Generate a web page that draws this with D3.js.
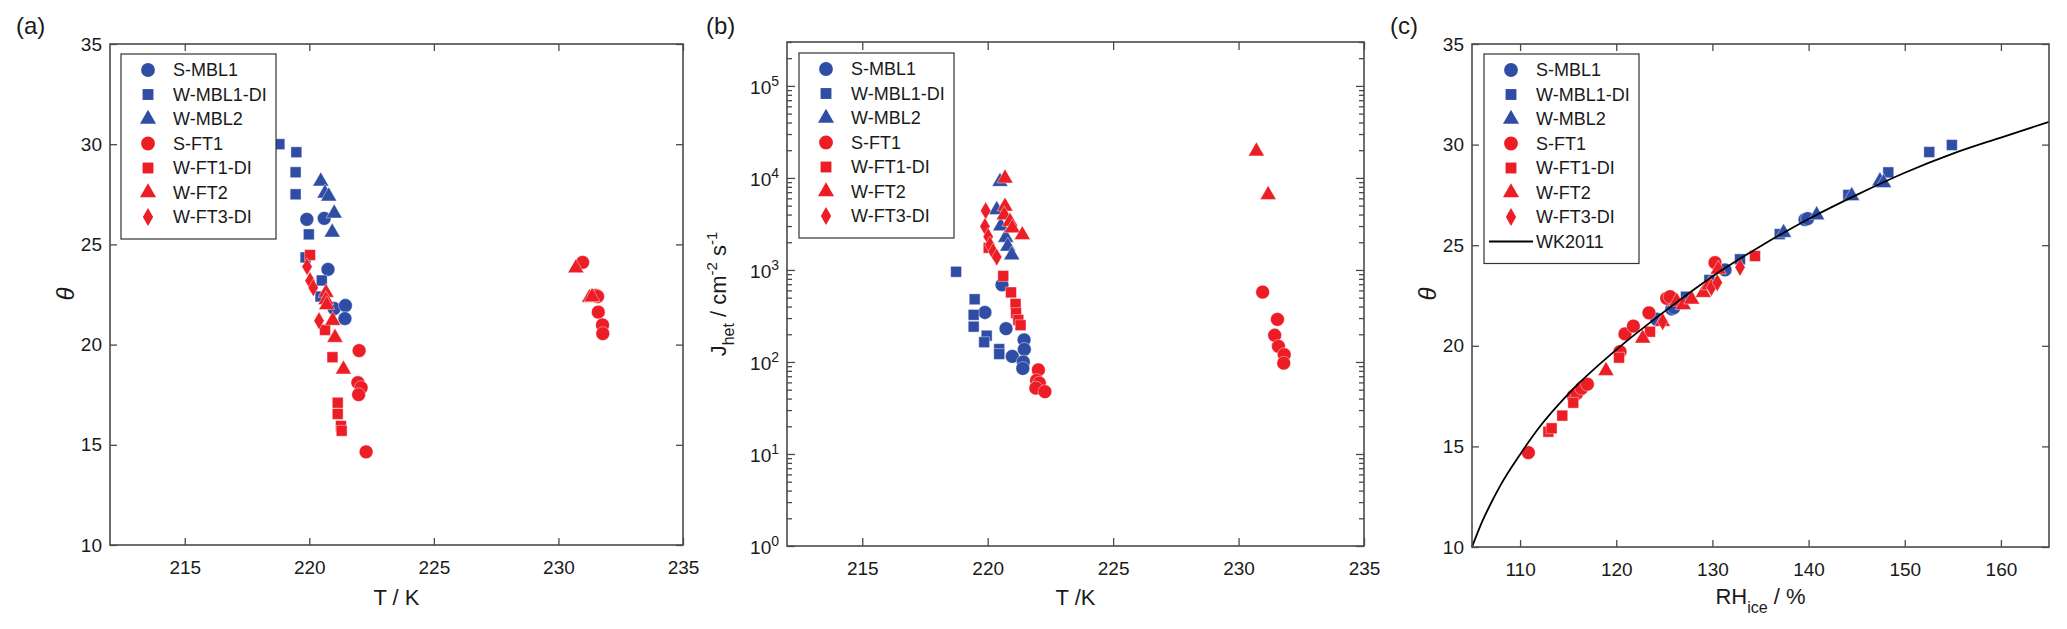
<!DOCTYPE html>
<html>
<head>
<meta charset="utf-8">
<script src="https://cdn.jsdelivr.net/npm/d3@7"></script>
<style>
    body { margin: 0; background: #fff; }
    text { font-family: "Liberation Sans", Arial, sans-serif; fill: #1a1a1a; }
</style>
</head>
<body>
<div id="chart"></div>
<script>

// ---- series ----
const seriesNames  = ["S-MBL1", "W-MBL1-DI", "W-MBL2", "S-FT1", "W-FT1-DI", "W-FT2", "W-FT3-DI"]
const seriesGroups = ["MBL", "MBL", "MBL", "FT", "FT", "FT", "FT"]
const seriesShapes = ["circle", "square", "triangle", "circle", "square", "triangle", "diamond"]

// ---- panel (a): [T (K), theta] ----
const sMBL1_a   = [[219.9, 26.25], [220.6, 26.3], [220.75, 23.75], [221.0, 21.8], [221.45, 21.95], [221.43, 21.3]]
const wMBL1DI_a = [[218.8, 30.0], [219.48, 29.6], [219.45, 28.6], [219.45, 27.5], [219.98, 25.5], [219.85, 24.35], [220.5, 23.2], [220.45, 22.4]]
const wMBL2_a   = [[220.46, 28.15], [220.63, 27.55], [220.78, 27.4], [221.0, 26.55], [220.92, 25.6]]
const sFT1_a    = [[222.0, 19.7], [221.95, 18.1], [222.08, 17.85], [221.98, 17.5], [222.28, 14.65],
                   [230.97, 24.1], [231.5, 22.45], [231.57, 22.4], [231.6, 21.62], [231.77, 20.98], [231.78, 20.55]]
const wFT1DI_a  = [[220.03, 24.47], [220.63, 20.73], [220.93, 19.37], [221.14, 17.1], [221.14, 16.54], [221.27, 15.94], [221.3, 15.7]]
const wFT2_a    = [[220.67, 22.59], [220.67, 22.23], [220.7, 21.98], [220.94, 21.2], [221.03, 20.35], [221.37, 18.77],
                   [230.7, 23.82], [231.25, 22.34], [231.35, 22.38]]
const wFT3DI_a  = [[219.91, 23.89], [220.03, 23.19], [220.16, 22.84], [220.39, 21.19]]

// ---- panel (b): [T (K), J_het (cm-2 s-1)] ----
const sMBL1_b   = [[220.57, 690], [219.89, 345], [220.73, 230], [220.98, 115], [221.45, 174], [221.46, 137], [221.42, 100], [221.4, 85]]
const wMBL1DI_b = [[218.74, 955], [219.48, 480], [219.44, 325], [219.44, 242], [219.96, 193], [219.86, 164], [220.46, 138], [220.46, 122]]
const wMBL2_b   = [[220.49, 9100], [220.36, 4500], [220.52, 3000], [220.72, 2250], [220.8, 1800], [220.96, 1450]]
const sFT1_b    = [[222.02, 82], [221.95, 63], [222.06, 59], [221.92, 52], [222.28, 47.5],
                   [230.96, 575], [231.55, 290], [231.44, 195], [231.59, 148], [231.82, 120], [231.8, 97]]
const wFT1DI_b  = [[220.04, 1740], [220.62, 860], [220.93, 570], [221.11, 427], [221.13, 340], [221.22, 286], [221.31, 251]]
const wFT2_b    = [[220.69, 9900], [220.69, 4900], [220.66, 3950], [220.89, 3350], [220.98, 2850], [221.38, 2400],
                   [230.71, 19500], [231.18, 6550]]
const wFT3DI_b  = [[219.92, 4400], [219.89, 2970], [220.02, 2300], [220.09, 1870], [220.22, 1580], [220.36, 1380]]

// ---- panel (c): [RH_ice (%), theta] ----
const sMBL1_c   = [[124.2, 21.32], [125.77, 21.83], [126.0, 21.9], [131.31, 23.77], [139.63, 26.27], [139.9, 26.32]]
const wMBL1DI_c = [[127.25, 22.44], [129.68, 23.27], [132.87, 24.3], [137.0, 25.55], [144.13, 27.5], [148.29, 28.62], [152.55, 29.63], [154.9, 29.98]]
const wMBL2_c   = [[137.4, 25.62], [140.84, 26.5], [144.48, 27.45], [147.42, 28.19], [147.8, 28.1]]
const sFT1_c    = [[110.86, 14.69], [115.53, 17.5], [115.9, 17.64], [116.4, 17.89], [117.0, 18.09], [120.39, 19.71],
                   [120.91, 20.59], [121.78, 20.98], [123.4, 21.64], [125.25, 22.36], [125.6, 22.44], [130.27, 24.13]]
const wFT1DI_c  = [[112.94, 15.73], [113.28, 15.9], [114.39, 16.53], [115.53, 17.17], [120.29, 19.41], [123.51, 20.7], [134.43, 24.46]]
const wFT2_c    = [[118.93, 18.76], [122.75, 20.37], [124.8, 21.2], [126.3, 22.2], [126.97, 22.03], [127.84, 22.31],
                   [129.05, 22.64], [129.64, 23.02], [130.61, 23.8]]
const wFT3DI_c  = [[124.83, 21.2], [129.9, 22.9], [130.51, 23.14], [132.87, 23.9]]

// WK2011 curve
const wkRH    = [105, 106, 107, 108, 110, 112, 115, 120, 125, 130, 135, 140, 145, 150, 155, 160, 165]
const wkTheta = [10, 11.2, 12.2, 13.1, 14.6, 15.95, 17.6, 19.8, 21.7, 23.45, 24.95, 26.3, 27.5, 28.6, 29.55, 30.35, 31.13]

// ---- ticks ----
const tTicks     = [215, 220, 225, 230, 235]
const thetaTicks = [10, 15, 20, 25, 30, 35]
const rhTicks    = [110, 120, 130, 140, 150, 160]
const jDecades   = [0, 1, 2, 3, 4, 5]

const BLUE = "#2f4da4"
const RED = "#ec1d25"
const FRAME = "#4a4a4a"

const svg = d3.select("#chart").append("svg")
    .attr("width", 2067)
    .attr("height", 629)

const symbolFor = {
    circle: d3.symbol().type(d3.symbolCircle).size(150),
    square: d3.symbol().type(d3.symbolSquare).size(118),
    triangle: d3.symbol().type(d3.symbolTriangle).size(112),
    diamond: d3.symbol().type(d3.symbolDiamond).size(92)
}

function colorOf(i) {
    return seriesGroups[i] === "MBL" ? BLUE : RED
}

function styleAxis(g) {
    g.select(".domain").remove()
    g.selectAll(".tick line").attr("stroke", FRAME).attr("stroke-width", 1.3)
    g.selectAll("text").attr("font-size", 19).attr("fill", "#1a1a1a")
}

function drawPanel(p) {
    let g = svg.append("g")

    // markers
    p.data.forEach((pts, i) => {
        g.append("g").selectAll("path")
            .data(pts)
            .enter().append("path")
            .attr("d", symbolFor[seriesShapes[i]])
            .attr("transform", d => "translate(" + p.x(d[0]) + "," + p.y(d[1]) + ")")
            .attr("fill", colorOf(i))
            .attr("stroke", "#fff")
            .attr("stroke-width", 0.6)
            .attr("stroke-opacity", 0.7)
    })

    // frame
    g.append("rect")
        .attr("x", p.l).attr("y", p.t)
        .attr("width", p.r - p.l).attr("height", p.b - p.t)
        .attr("fill", "none")
        .attr("stroke", FRAME)
        .attr("stroke-width", 1.6)

    // x axes (bottom with labels, top without)
    g.append("g")
        .attr("transform", "translate(0," + p.b + ")")
        .call(d3.axisBottom(p.x).tickValues(p.xTicks).tickSize(-p.tick).tickPadding(16).tickFormat(d3.format("d")))
        .call(styleAxis)
    g.append("g")
        .attr("transform", "translate(0," + p.t + ")")
        .call(d3.axisTop(p.x).tickValues(p.xTicks).tickSize(-p.tick).tickFormat(""))
        .call(styleAxis)

    // legend
    let n = seriesNames.length + (p.extraLegend ? 1 : 0)
    let lg = g.append("g")
    lg.append("rect")
        .attr("x", p.legend[0]).attr("y", p.legend[1])
        .attr("width", 155).attr("height", 23 + 24.5 * (n - 1) + 15)
        .attr("fill", "#fff")
        .attr("stroke", "#333")
        .attr("stroke-width", 1.2)
    seriesNames.forEach((name, i) => {
        let cy = p.legend[1] + 16 + 24.5 * i
        lg.append("path")
            .attr("d", symbolFor[seriesShapes[i]])
            .attr("transform", "translate(" + (p.legend[0] + 27) + "," + cy + ")")
            .attr("fill", colorOf(i))
        lg.append("text")
            .attr("x", p.legend[0] + 52)
            .attr("y", cy)
            .attr("dominant-baseline", "central")
            .attr("font-size", 18)
            .text(name)
    })
    if (p.extraLegend) {
        let cy = p.legend[1] + 16 + 24.5 * seriesNames.length
        lg.append("line")
            .attr("x1", p.legend[0] + 5).attr("x2", p.legend[0] + 49)
            .attr("y1", cy).attr("y2", cy)
            .attr("stroke", "#000").attr("stroke-width", 1.8)
        lg.append("text")
            .attr("x", p.legend[0] + 52)
            .attr("y", cy)
            .attr("dominant-baseline", "central")
            .attr("font-size", 18)
            .text(p.extraLegend)
    }

    // panel letter
    g.append("text")
        .attr("x", p.letterX).attr("y", 34)
        .attr("font-size", 24)
        .text(p.letter)

    return g
}

// ---------- panel (a) ----------
let xA = d3.scaleLinear().domain([212, 235]).range([110, 683])
let yA = d3.scaleLinear().domain([10, 35]).range([545, 44])
let gA = drawPanel({
    l: 110, t: 44, r: 683, b: 545, x: xA, y: yA, tick: 7, xTicks: tTicks,
    data: [sMBL1_a, wMBL1DI_a, wMBL2_a, sFT1_a, wFT1DI_a, wFT2_a, wFT3DI_a],
    legend: [121, 54], letter: "(a)", letterX: 16
})

// ---------- panel (b) ----------
let xB = d3.scaleLinear().domain([212, 235]).range([787, 1364])
let yB = d3.scaleLog().domain([1, 3e5]).range([546, 42])
let gB = drawPanel({
    l: 787, t: 42, r: 1364, b: 546, x: xB, y: yB, tick: 8, xTicks: tTicks,
    data: [sMBL1_b, wMBL1DI_b, wMBL2_b, sFT1_b, wFT1DI_b, wFT2_b, wFT3DI_b],
    legend: [799, 53], letter: "(b)", letterX: 706
})

// ---------- panel (c) ----------
let xC = d3.scaleLinear().domain([105, 165]).range([1472, 2049])
let yC = d3.scaleLinear().domain([10, 35]).range([547, 44])
let gC = drawPanel({
    l: 1472, t: 44, r: 2049, b: 547, x: xC, y: yC, tick: 7, xTicks: rhTicks,
    data: [sMBL1_c, wMBL1DI_c, wMBL2_c, sFT1_c, wFT1DI_c, wFT2_c, wFT3DI_c],
    legend: [1484, 54], letter: "(c)", letterX: 1390, extraLegend: "WK2011"
})

// WK2011 curve, drawn under the legend box
gC.insert("path", "rect")
    .datum(wkRH.map((d, i) => [d, wkTheta[i]]))
    .attr("d", d3.line().x(d => xC(d[0])).y(d => yC(d[1])).curve(d3.curveMonotoneX))
    .attr("fill", "none")
    .attr("stroke", "#000")
    .attr("stroke-width", 1.8)

// linear theta axes
;[[gA, yA, 110, 683], [gC, yC, 1472, 2049]].forEach(([g, y, l, r]) => {
    g.append("g")
        .attr("transform", "translate(" + l + ",0)")
        .call(d3.axisLeft(y).tickValues(thetaTicks).tickSize(-7).tickPadding(8))
        .call(styleAxis)
    g.append("g")
        .attr("transform", "translate(" + r + ",0)")
        .call(d3.axisRight(y).tickValues(thetaTicks).tickSize(-7).tickFormat(""))
        .call(styleAxis)
})

// log J axis
let jMajor = jDecades.map(e => Math.pow(10, e))
let jMinor = yB.ticks().filter(v => jMajor.indexOf(v) < 0)
;[[d3.axisLeft, 787], [d3.axisRight, 1364]].forEach(([axisFn, pos]) => {
    gB.append("g")
        .attr("transform", "translate(" + pos + ",0)")
        .call(axisFn(yB).tickValues(jMinor).tickSize(-5).tickFormat(""))
        .call(styleAxis)
})
gB.append("g")
    .attr("transform", "translate(1364,0)")
    .call(d3.axisRight(yB).tickValues(jMajor).tickSize(-8).tickFormat(""))
    .call(styleAxis)
let jLeft = gB.append("g")
    .attr("transform", "translate(787,0)")
    .call(d3.axisLeft(yB).tickValues(jMajor).tickSize(-8).tickPadding(8))
    .call(styleAxis)
jLeft.selectAll(".tick text").each(function(d, i) {
    let t = d3.select(this).text(null).attr("dy", "0.42em")
    t.append("tspan").text("10")
    t.append("tspan").attr("dy", "-0.62em").attr("font-size", 14).text(jDecades[i])
})

// ---------- axis titles ----------
svg.append("text").attr("x", 396.5).attr("y", 605).attr("text-anchor", "middle")
    .attr("font-size", 22).text("T / K")
svg.append("text").attr("x", 1075.5).attr("y", 605).attr("text-anchor", "middle")
    .attr("font-size", 22).text("T /K")

let rhLabel = svg.append("text").attr("x", 1760.5).attr("y", 604).attr("text-anchor", "middle")
    .attr("font-size", 22)
rhLabel.append("tspan").text("RH")
rhLabel.append("tspan").attr("dy", 9).attr("font-size", 16).text("ice")
rhLabel.append("tspan").attr("dy", -9).text(" / %")

;[65, 1427].forEach(x => {
    svg.append("text")
        .attr("transform", "translate(" + x + ",294) rotate(-90)")
        .attr("text-anchor", "middle")
        .attr("dominant-baseline", "central")
        .attr("font-family", "'Liberation Serif', 'DejaVu Serif', serif")
        .attr("font-style", "italic")
        .attr("font-size", 24)
        .text("θ")
})

let jLabel = svg.append("text")
    .attr("transform", "translate(726,294) rotate(-90)")
    .attr("text-anchor", "middle")
    .attr("font-size", 22)
jLabel.append("tspan").text("J")
jLabel.append("tspan").attr("dy", 8).attr("font-size", 16).text("het")
jLabel.append("tspan").attr("dy", -8).text(" / cm")
jLabel.append("tspan").attr("dy", -9).attr("font-size", 15).text("-2")
jLabel.append("tspan").attr("dy", 9).text(" s")
jLabel.append("tspan").attr("dy", -9).attr("font-size", 15).text("-1")

</script>
</body>
</html>
